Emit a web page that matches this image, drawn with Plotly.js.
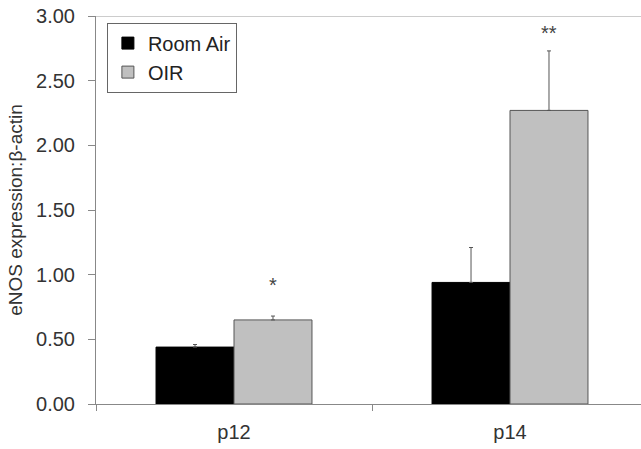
<!DOCTYPE html>
<html>
<head>
<meta charset="utf-8">
<script src="https://cdn.plot.ly/plotly-3.0.1.min.js"></script>
<style>html,body{margin:0;padding:0;background:#fff;}#chart{width:641px;height:449px;}</style>
</head>
<body>
<div id="chart"></div>
<script>
var categories = ["p12", "p14"];
var roomAir = [0.44, 0.94];
var roomAirErr = [0.02, 0.27];
var oir = [0.65, 2.27];
var oirErr = [0.03, 0.46];
var oirMarks = ["*", "**"];
var yTicks = [0, 0.5, 1.0, 1.5, 2.0, 2.5, 3.0];

var traces = [
  {
    type: "bar", name: "Room Air", x: categories, y: roomAir,
    marker: {color: "#000000", line: {color: "#000000", width: 1}},
    error_y: {type: "data", array: roomAirErr, arrayminus: [0, 0], symmetric: false, color: "#555555", thickness: 1, width: 2}
  },
  {
    type: "bar", name: "OIR", x: categories, y: oir,
    marker: {color: "#c0c0c0", line: {color: "#555555", width: 1}},
    error_y: {type: "data", array: oirErr, arrayminus: [0, 0], symmetric: false, color: "#555555", thickness: 1, width: 2}
  }
];

var markShifts = [31, 18];
var annotations = categories.map(function (c, i) {
  return {
    x: c, y: oir[i] + oirErr[i], xref: "x", yref: "y",
    text: oirMarks[i], showarrow: false, xshift: 39, yshift: markShifts[i],
    font: {family: "Liberation Sans, Arial, sans-serif", size: 20, color: "#444"}
  };
});

var layout = {
  width: 641, height: 449,
  margin: {l: 96, r: 0, t: 16, b: 45, pad: 0},
  paper_bgcolor: "#fff", plot_bgcolor: "#fff",
  font: {family: "Liberation Sans, Arial, sans-serif", size: 20, color: "#333"},
  barmode: "group", bargap: 0.435, bargroupgap: 0,
  showlegend: true,
  legend: {
    x: 0.02, y: 0.983, xanchor: "left", yanchor: "top",
    bordercolor: "#666", borderwidth: 1, bgcolor: "#fff",
    font: {size: 20, color: "#222"}, traceorder: "normal",
    tracegroupgap: 0, itemwidth: 30
  },
  xaxis: {
    type: "category", range: [-0.5, 1.4746],
    showline: true, linecolor: "#888", linewidth: 1,
    ticks: "outside", tickson: "boundaries", ticklen: 6, tickcolor: "#888",
    showgrid: false, zeroline: false, ticklabelstandoff: 10,
    tickfont: {size: 20, color: "#333"}
  },
  yaxis: {
    range: [0, 3.0], tickvals: yTicks, tickformat: ".2f",
    showline: true, linecolor: "#888", linewidth: 1,
    ticks: "outside", ticklen: 7, tickcolor: "#888",
    showgrid: false, zeroline: false, ticklabelstandoff: 9,
    tickfont: {size: 20, color: "#333"},
    title: {text: "eNOS expression:β-actin", font: {size: 19, color: "#333"}, standoff: 8}
  },
  shapes: [{type: "line", xref: "paper", yref: "y", x0: 0, x1: 1, y0: 3, y1: 3, line: {color: "#999", width: 1}}],
  annotations: annotations
};

Plotly.newPlot("chart", traces, layout, {displayModeBar: false, staticPlot: true});
</script>
</body>
</html>
